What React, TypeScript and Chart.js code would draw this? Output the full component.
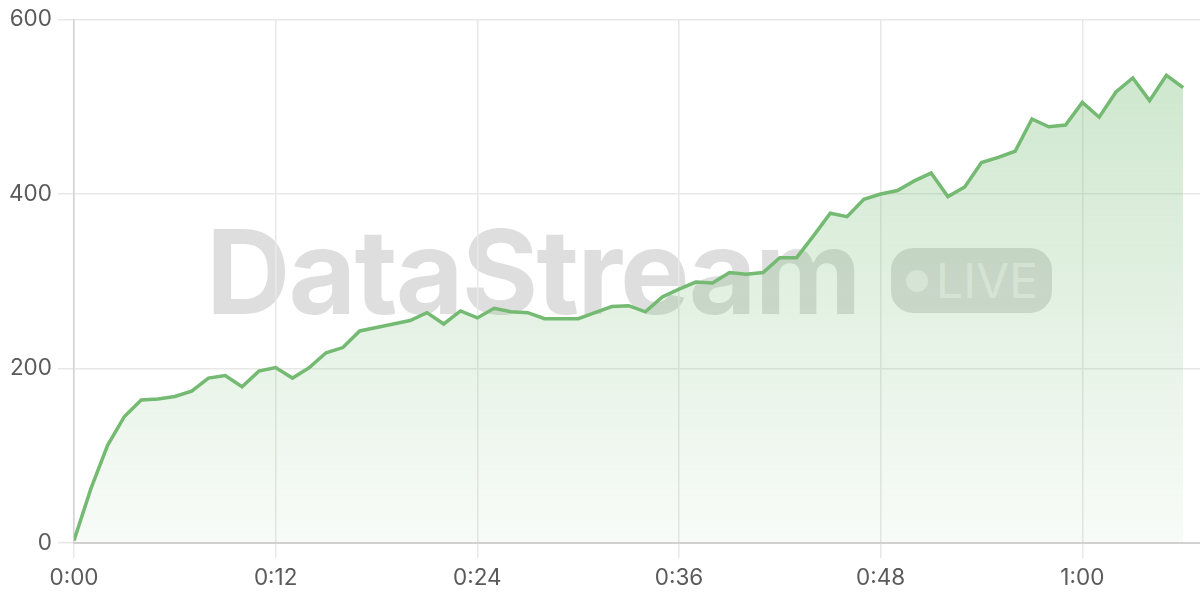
import { useEffect, useRef } from 'react';
import { Chart, registerables } from 'chart.js';
Chart.register(...registerables);

// elapsed seconds of the stream and the value read at each second
const seconds = [
  0, 1, 2, 3, 4, 5, 6, 7, 8, 9, 10, 11, 12, 13, 14, 15, 16, 17, 18, 19, 20, 21,
  22, 23, 24, 25, 26, 27, 28, 29, 30, 31, 32, 33, 34, 35, 36, 37, 38, 39, 40, 41,
  42, 43, 44, 45, 46, 47, 48, 49, 50, 51, 52, 53, 54, 55, 56, 57, 58, 59, 60, 61,
  62, 63, 64, 65, 66,
];
const values = [
  3, 62, 112, 145, 164, 165, 168, 174, 189, 192, 179, 197, 201, 189, 201, 218, 224,
  243, 247, 251, 255, 264, 251, 266, 258, 269, 265, 264, 257, 257, 257, 264, 271,
  272, 265, 282, 291, 299, 298, 310, 308, 310, 327, 327, 352, 378, 374, 394, 400,
  404, 415, 424, 397, 408, 436, 442, 449, 486, 477, 479, 505, 488, 517, 533, 507,
  536, 522,
];
const xTickValues = [0, 12, 24, 36, 48, 60];
const xTickLabels = ['0:00', '0:12', '0:24', '0:36', '0:48', '1:00'];
const yTickValues = [0, 200, 400, 600];

const GREEN = '#74ba72';
const TICK_FONT = { family: 'Inter', size: 22.5 };

export default function App() {
  const canvasRef = useRef<HTMLCanvasElement>(null);
  const chartRef = useRef<Chart | null>(null);

  useEffect(() => {
    if (!canvasRef.current) return;
    if (chartRef.current) chartRef.current.destroy();

    chartRef.current = new Chart(canvasRef.current, {
      type: 'line',
      data: {
        datasets: [
          {
            data: seconds.map((s, i) => ({ x: s, y: values[i] })),
            borderColor: GREEN,
            borderWidth: 3.5,
            pointRadius: 0,
            tension: 0,
            fill: 'origin',
            backgroundColor: (ctx: any) => {
              const area = ctx.chart.chartArea;
              if (!area) return 'rgba(116,186,114,0.2)';
              const g = ctx.chart.ctx.createLinearGradient(0, area.top, 0, area.bottom);
              g.addColorStop(0, 'rgba(116,186,114,0.38)');
              g.addColorStop(1, 'rgba(116,186,114,0.05)');
              return g;
            },
          },
        ],
      },
      options: {
        responsive: false,
        animation: false,
        layout: { padding: { top: 19, right: 0, left: 0, bottom: 0 } },
        plugins: { legend: { display: false }, tooltip: { enabled: false } },
        scales: {
          x: {
            type: 'linear',
            min: 0,
            max: 67,
            afterBuildTicks: (scale: any) => {
              scale.ticks = xTickValues.map(v => ({ value: v }));
            },
            afterFit: (scale: any) => { scale.height = 57; },
            ticks: {
              color: '#5a5a5a',
              font: TICK_FONT,
              padding: 7,
              maxRotation: 0,
              callback: (v: number | string) => xTickLabels[xTickValues.indexOf(Number(v))] ?? '',
            },
            grid: { color: '#e8e8e8', lineWidth: 1.5, tickLength: 15 },
            border: { color: '#d2d2d2', width: 2 },
          },
          y: {
            min: 0,
            max: 600,
            afterBuildTicks: (scale: any) => {
              scale.ticks = yTickValues.map(v => ({ value: v }));
            },
            afterFit: (scale: any) => { scale.width = 74; },
            ticks: { color: '#5a5a5a', font: TICK_FONT, padding: 6 },
            grid: { color: '#e8e8e8', lineWidth: 1.5, tickLength: 16 },
            border: { color: '#d2d2d2', width: 1.5 },
          },
        },
      },
    });

    return () => { chartRef.current?.destroy(); };
  }, []);

  return (
    <div style={{ position: 'fixed', left: 0, top: 0, width: 1200, height: 600, background: '#fff', fontFamily: 'Inter' }}>
      <div
        style={{
          position: 'absolute', left: 206, top: 213, zIndex: 0,
          fontSize: 117, fontWeight: 700, lineHeight: '117px', letterSpacing: -2,
          color: 'rgba(0,0,0,0.13)', whiteSpace: 'nowrap',
        }}
      >
        DataStream
      </div>
      <div
        style={{
          position: 'absolute', left: 891, top: 248, width: 161, height: 65, zIndex: 0,
          borderRadius: 22, background: 'rgba(0,0,0,0.13)',
          display: 'flex', alignItems: 'center', boxSizing: 'border-box', paddingLeft: 15,
        }}
      >
        <span style={{ width: 22, height: 22, borderRadius: 11, background: 'rgba(255,255,255,0.55)', marginRight: 8 }} />
        <span style={{ fontSize: 48, lineHeight: '48px', color: 'rgba(255,255,255,0.55)', fontWeight: 400 }}>LIVE</span>
      </div>
      <canvas
        ref={canvasRef}
        width={1200}
        height={600}
        style={{ position: 'absolute', left: 0, top: 0, zIndex: 1 }}
        role="img"
        aria-label="DataStream live value over time"
      />
    </div>
  );
}
